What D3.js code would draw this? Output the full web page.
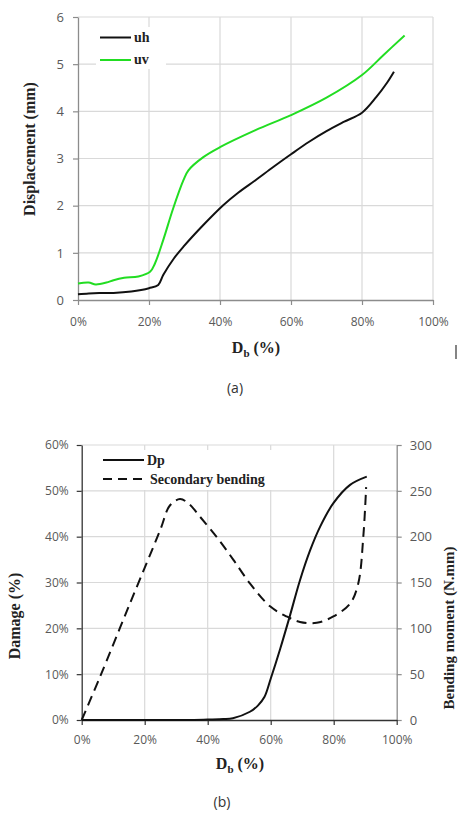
<!DOCTYPE html>
<html><head><meta charset="utf-8">
<script src="https://cdn.jsdelivr.net/npm/d3@7"></script>
<style>body{margin:0;background:#fff}svg{display:block}</style>
</head><body>
<script>
// ---- Data: chart (a)
const dbA = [0, 3, 6, 10, 15, 20, 22.6, 24, 27, 29.7, 35.3, 40.9, 45.2, 50, 55, 60, 65, 70, 75, 80, 84, 87, 89];
const uh  = [0.12, 0.14, 0.15, 0.15, 0.18, 0.25, 0.32, 0.53, 0.88, 1.13, 1.59, 2.01, 2.28, 2.54, 2.82, 3.09, 3.35, 3.58, 3.78, 3.97, 4.3, 4.6, 4.84];
const dbV = [0, 3, 5, 8, 10, 13, 17, 20.3, 21.7, 24, 26.8, 29.7, 31.1, 35.3, 40, 50, 60, 70, 80, 86, 92];
const uv  = [0.35, 0.37, 0.33, 0.37, 0.42, 0.47, 0.5, 0.6, 0.78, 1.27, 1.94, 2.54, 2.75, 3.03, 3.24, 3.6, 3.92, 4.29, 4.77, 5.19, 5.61];
const yTicksA = [0, 1, 2, 3, 4, 5, 6];
const xTicks = [0, 20, 40, 60, 80, 100];
// ---- Data: chart (b)
const dbDp = [0, 33, 40, 45, 48, 53.4, 56, 58, 60, 63, 66, 69.3, 72.5, 75.7, 79.9, 85.2, 90.5];
const dp   = [0, 0, 0.1, 0.2, 0.4, 1.8, 3.2, 5, 9, 15.5, 22.5, 30.5, 37, 42.2, 47.3, 51.3, 53.1];
const dbSb = [0, 5.8, 15.3, 24.9, 28, 31.2, 34, 37.5, 43, 48.1, 53.4, 59.8, 65, 69.3, 74.6, 79.9, 85.2, 87.8, 89.4, 90.3];
const sb   = [0, 47, 127, 207, 234, 241, 236, 222, 199, 175, 149, 124, 113, 107, 106, 113, 127, 149, 200, 254];
const yTicksBL = [0, 10, 20, 30, 40, 50, 60];
const yTicksBR = [0, 50, 100, 150, 200, 250, 300];

const W = 458, H = 813;
const svg = d3.select("body").append("svg").attr("width", W).attr("height", H);
svg.append("rect").attr("width", W).attr("height", H).attr("fill", "#fff");

const tickFont = "'Open Sans', 'Liberation Sans', sans-serif";
const serif = "'Liberation Serif', 'DejaVu Serif', serif";
const tickColor = "#595959";
const gridColor = "#d9d9d9";

function styleAxis(g, lineColor) {
  g.select(".domain").attr("stroke", lineColor).attr("stroke-width", 1.3);
  g.selectAll(".tick line").attr("stroke", lineColor).attr("stroke-width", 1.2);
  g.selectAll(".tick text").attr("fill", tickColor).style("font-family", tickFont).style("font-size", "12px");
}
const curve = d3.curveCatmullRom.alpha(0.5);

// ================= Chart (a)
{
  const L = 78, R = 433, T = 17, B = 300;
  const x = d3.scaleLinear().domain([0, 100]).range([L, R]);
  const y = d3.scaleLinear().domain([0, 6]).range([B, T]);
  const g = svg.append("g");
  g.selectAll(".vg").data(xTicks.slice(1)).join("line")
    .attr("x1", d => x(d)).attr("x2", d => x(d)).attr("y1", T).attr("y2", B)
    .attr("stroke", gridColor).attr("stroke-width", 1.2);
  g.selectAll(".hg").data(yTicksA.slice(1)).join("line")
    .attr("x1", L).attr("x2", R).attr("y1", d => y(d)).attr("y2", d => y(d))
    .attr("stroke", gridColor).attr("stroke-width", 1.2);
  const ax = g.append("g").attr("transform", `translate(0,${B})`)
    .call(d3.axisBottom(x).tickValues(xTicks).tickFormat(d => d + "%").tickSize(5).tickSizeOuter(0).tickPadding(12));
  styleAxis(ax, "#8c8c8c");
  const ay = g.append("g").attr("transform", `translate(${L},0)`)
    .call(d3.axisLeft(y).tickValues(yTicksA).tickFormat(d3.format("d")).tickSize(5).tickSizeOuter(0).tickPadding(9));
  styleAxis(ay, "#8c8c8c");
  ay.selectAll(".tick text").style("font-size", "13px");

  const line = d3.line().x(d => x(d[0])).y(d => y(d[1])).curve(curve);
  g.append("path").datum(dbA.map((d, i) => [d, uh[i]])).attr("d", line)
    .attr("fill", "none").attr("stroke", "#111").attr("stroke-width", 2);
  g.append("path").datum(dbV.map((d, i) => [d, uv[i]])).attr("d", line)
    .attr("fill", "none").attr("stroke", "#22dd22").attr("stroke-width", 2);

  const lg = g.append("g");
  lg.append("rect").attr("x", 96).attr("y", 27).attr("width", 70).attr("height", 42).attr("fill", "#fff");
  lg.append("line").attr("x1", 100).attr("x2", 131).attr("y1", 37.5).attr("y2", 37.5).attr("stroke", "#111").attr("stroke-width", 2);
  lg.append("text").attr("x", 134).attr("y", 42).text("uh").style("font-family", serif).style("font-weight", "bold").style("font-size", "14px").attr("fill", "#222");
  lg.append("line").attr("x1", 100).attr("x2", 131).attr("y1", 60).attr("y2", 60).attr("stroke", "#22dd22").attr("stroke-width", 2);
  lg.append("text").attr("x", 134).attr("y", 64).text("uv").style("font-family", serif).style("font-weight", "bold").style("font-size", "14px").attr("fill", "#222");

  const xt = g.append("text").attr("x", 256).attr("y", 353).attr("text-anchor", "middle")
    .style("font-family", serif).style("font-weight", "bold").style("font-size", "16px").attr("fill", "#222");
  xt.append("tspan").text("D");
  xt.append("tspan").text("b").attr("dy", 4).style("font-size", "11px");
  xt.append("tspan").text(" (%)").attr("dy", -4);
  g.append("text").attr("transform", `translate(35,149) rotate(-90)`).attr("text-anchor", "middle")
    .style("font-family", serif).style("font-weight", "bold").style("font-size", "16px").attr("fill", "#222")
    .text("Displacement (mm)");
  g.append("text").attr("x", 235).attr("y", 393).attr("text-anchor", "middle")
    .style("font-family", tickFont).style("font-size", "14px").attr("fill", "#333").text("(a)");
  g.append("line").attr("x1", 456).attr("x2", 456).attr("y1", 345).attr("y2", 359).attr("stroke", "#333").attr("stroke-width", 1.2);
}

// ================= Chart (b)
{
  const L = 81.7, R = 396.7, T = 445, B = 720;
  const x = d3.scaleLinear().domain([0, 100]).range([L, R]);
  const yl = d3.scaleLinear().domain([0, 60]).range([B, T]);
  const yr = d3.scaleLinear().domain([0, 300]).range([B, T]);
  const g = svg.append("g");
  g.selectAll(".vg").data(xTicks.slice(1, -1)).join("line")
    .attr("x1", d => x(d)).attr("x2", d => x(d)).attr("y1", T).attr("y2", B)
    .attr("stroke", gridColor).attr("stroke-width", 1.2);
  g.selectAll(".hg").data(yTicksBL.slice(1)).join("line")
    .attr("x1", L).attr("x2", R).attr("y1", d => yl(d)).attr("y2", d => yl(d))
    .attr("stroke", gridColor).attr("stroke-width", 1.2);
  const ayr = g.append("g").attr("transform", `translate(${R},0)`)
    .call(d3.axisRight(yr).tickValues(yTicksBR).tickSize(5).tickSizeOuter(0).tickPadding(8));
  styleAxis(ayr, "#8c8c8c");
  ayr.selectAll(".tick text").style("font-size", "13px");
  const ax = g.append("g").attr("transform", `translate(0,${B})`)
    .call(d3.axisBottom(x).tickValues(xTicks).tickFormat(d => d + "%").tickSize(5).tickSizeOuter(0).tickPadding(10));
  styleAxis(ax, "#333");
  const ayl = g.append("g").attr("transform", `translate(${L},0)`)
    .call(d3.axisLeft(yl).tickValues(yTicksBL).tickFormat(d => d + "%").tickSize(5).tickSizeOuter(0).tickPadding(8));
  styleAxis(ayl, "#333");

  const lineL = d3.line().x(d => x(d[0])).y(d => yl(d[1])).curve(curve);
  const lineR = d3.line().x(d => x(d[0])).y(d => yr(d[1])).curve(curve);
  g.append("path").datum(dbSb.map((d, i) => [d, sb[i]])).attr("d", lineR)
    .attr("fill", "none").attr("stroke", "#111").attr("stroke-width", 2).attr("stroke-dasharray", "10,6");
  g.append("path").datum(dbDp.map((d, i) => [d, dp[i]])).attr("d", lineL)
    .attr("fill", "none").attr("stroke", "#111").attr("stroke-width", 2);

  const lg = g.append("g");
  lg.append("rect").attr("x", 99).attr("y", 450).attr("width", 180).attr("height", 40).attr("fill", "#fff");
  lg.append("line").attr("x1", 103).attr("x2", 144).attr("y1", 460).attr("y2", 460).attr("stroke", "#111").attr("stroke-width", 2);
  lg.append("text").attr("x", 147).attr("y", 465).text("Dp").style("font-family", serif).style("font-weight", "bold").style("font-size", "14px").attr("fill", "#222");
  lg.append("line").attr("x1", 103).attr("x2", 148).attr("y1", 479).attr("y2", 479).attr("stroke", "#111").attr("stroke-width", 2).attr("stroke-dasharray", "9,6");
  lg.append("text").attr("x", 150).attr("y", 484).text("Secondary bending").style("font-family", serif).style("font-weight", "bold").style("font-size", "14px").attr("fill", "#222");

  const xt = g.append("text").attr("x", 240).attr("y", 769).attr("text-anchor", "middle")
    .style("font-family", serif).style("font-weight", "bold").style("font-size", "16px").attr("fill", "#222");
  xt.append("tspan").text("D");
  xt.append("tspan").text("b").attr("dy", 4).style("font-size", "11px");
  xt.append("tspan").text(" (%)").attr("dy", -4);
  g.append("text").attr("transform", `translate(20,616) rotate(-90)`).attr("text-anchor", "middle")
    .style("font-family", serif).style("font-weight", "bold").style("font-size", "16px").attr("fill", "#222")
    .text("Damage (%)");
  g.append("text").attr("transform", `translate(454,628) rotate(-90)`).attr("text-anchor", "middle")
    .style("font-family", serif).style("font-weight", "bold").style("font-size", "15px").attr("fill", "#222")
    .text("Bending moment (N.mm)");
  g.append("text").attr("x", 222).attr("y", 807).attr("text-anchor", "middle")
    .style("font-family", tickFont).style("font-size", "14px").attr("fill", "#333").text("(b)");
}
</script>
</body></html>
